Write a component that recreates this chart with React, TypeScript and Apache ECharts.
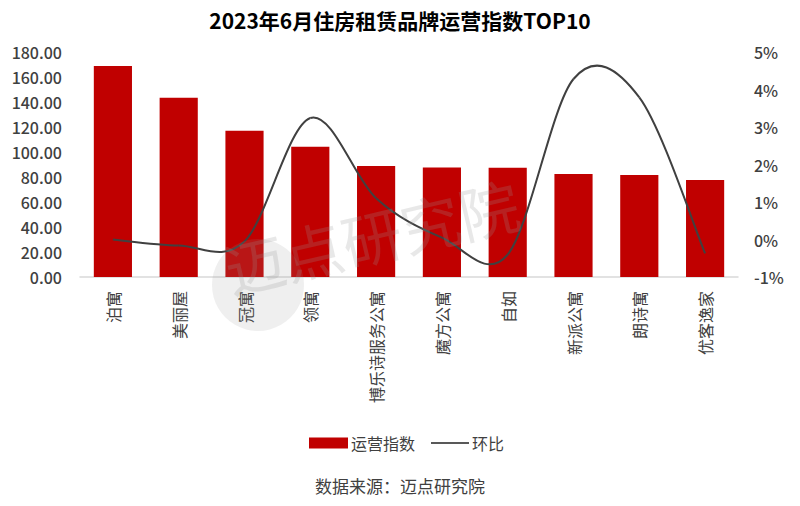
import React, { useEffect, useRef } from 'react';
import * as echarts from 'echarts';

const titleText = '2023年6月住房租赁品牌运营指数TOP10';
const sourceText = '数据来源：迈点研究院';
const categories = ['泊寓', '美丽屋', '冠寓', '领寓', '博乐诗服务公寓', '魔方公寓', '自如', '新派公寓', '朗诗寓', '优客逸家'];
const indexValues = [168.8, 143.5, 117.1, 104.3, 88.8, 87.7, 87.4, 82.4, 81.6, 77.6];
const momValues = [0.0, -0.16, -0.05, 3.24, 1.1, 0.05, -0.4, 4.28, 3.79, -0.37];
const seriesNames = ['运营指数', '环比'];

const FONT = '"Noto Sans CJK SC", "Noto Sans", sans-serif';

export default function App() {
  const ref = useRef<HTMLDivElement>(null);

  useEffect(() => {
    document.body.style.margin = '0';
    if (!ref.current) return;
    const chart = echarts.init(ref.current, null, { renderer: 'svg' });
    const n = momValues.length;
    const clampIdx = (k: number) => Math.max(0, Math.min(n - 1, k));

    chart.setOption({
      animation: false,
      backgroundColor: '#ffffff',
      textStyle: { fontFamily: FONT },
      title: {
        text: titleText,
        left: 'center',
        top: 4,
        textStyle: { fontFamily: FONT, fontSize: 21, fontWeight: 'bold', color: '#000000' },
      },
      legend: [
        {
          data: [{ name: seriesNames[0], icon: 'rect' }],
          left: 304,
          top: 428,
          itemWidth: 39,
          itemHeight: 11,
          itemGap: 4,
          textStyle: { fontFamily: FONT, fontSize: 16, color: '#404040', lineHeight: 20, padding: [0, 0, 0, -2] },
        },
        {
          data: [{ name: seriesNames[1], icon: 'rect' }],
          left: 426,
          top: 428,
          itemWidth: 38,
          itemHeight: 2,
          textStyle: { fontFamily: FONT, fontSize: 16, color: '#404040', lineHeight: 20, padding: [0, 0, 0, -2] },
        },
      ],
      grid: { left: 80, right: 62, top: 52, bottom: 229, containLabel: false },
      xAxis: {
        type: 'category',
        data: categories,
        axisLine: { show: true, lineStyle: { color: '#D9D9D9', width: 1.5 } },
        axisTick: { show: false },
        axisLabel: {
          rotate: 90,
          interval: 0,
          margin: 14,
          fontFamily: FONT,
          fontSize: 16,
          color: '#404040',
        },
      },
      yAxis: [
        {
          type: 'value',
          min: 0,
          max: 180,
          interval: 20,
          axisLine: { show: false },
          axisTick: { show: false },
          splitLine: { show: false },
          axisLabel: {
            margin: 18,
            fontFamily: FONT,
            fontSize: 16,
            fontWeight: 500,
            color: '#404040',
            formatter: (v: number) => v.toFixed(2),
          },
        },
        {
          type: 'value',
          min: -1,
          max: 5,
          interval: 1,
          axisLine: { show: false },
          axisTick: { show: false },
          splitLine: { show: false },
          axisLabel: {
            margin: 16,
            fontFamily: FONT,
            fontSize: 16,
            fontWeight: 500,
            color: '#404040',
            formatter: '{value}%',
          },
        },
      ],
      series: [
        {
          name: seriesNames[0],
          type: 'bar',
          data: indexValues,
          barWidth: '58%',
          itemStyle: { color: '#C00000' },
          yAxisIndex: 0,
        },
        {
          name: seriesNames[1],
          type: 'custom',
          yAxisIndex: 1,
          data: momValues.map((v, i) => [i, v]),
          encode: { x: 0, y: 1 },
          itemStyle: { color: '#595959' },
          z: 5,
          renderItem: (params: any, api: any) => {
            const i = params.dataIndex;
            if (i >= n - 1) return null;
            const pt = (k: number) => {
              const c = clampIdx(k);
              return api.coord([c, momValues[c]]);
            };
            const p0 = pt(i - 1);
            const p1 = pt(i);
            const p2 = pt(i + 1);
            const p3 = pt(i + 2);
            return {
              type: 'bezierCurve',
              shape: {
                x1: p1[0],
                y1: p1[1],
                x2: p2[0],
                y2: p2[1],
                cpx1: p1[0] + (p2[0] - p0[0]) / 6,
                cpy1: p1[1] + (p2[1] - p0[1]) / 6,
                cpx2: p2[0] - (p3[0] - p1[0]) / 6,
                cpy2: p2[1] - (p3[1] - p1[1]) / 6,
              },
              style: { stroke: '#404040', lineWidth: 2, fill: 'none' },
            };
          },
        },
      ],
      graphic: [
        {
          type: 'circle',
          shape: { cx: 258, cy: 285, r: 46 },
          style: { fill: 'rgba(150,150,150,0.15)' },
          z: 100,
          silent: true,
        },
        {
          type: 'text',
          x: 232,
          y: 298,
          rotation: 0.23,
          style: {
            text: '迈点研究院',
            fontFamily: FONT,
            fontSize: 60,
            fill: 'rgba(150,150,150,0.22)',
            textVerticalAlign: 'bottom',
          },
          z: 100,
          silent: true,
        },
        {
          type: 'text',
          left: 'center',
          top: 477,
          style: {
            text: sourceText,
            fontFamily: FONT,
            fontSize: 17,
            fill: '#404040',
          },
        },
      ],
    });

    return () => {
      chart.dispose();
    };
  }, []);

  return <div ref={ref} style={{ width: 800, height: 506 }} />;
}
